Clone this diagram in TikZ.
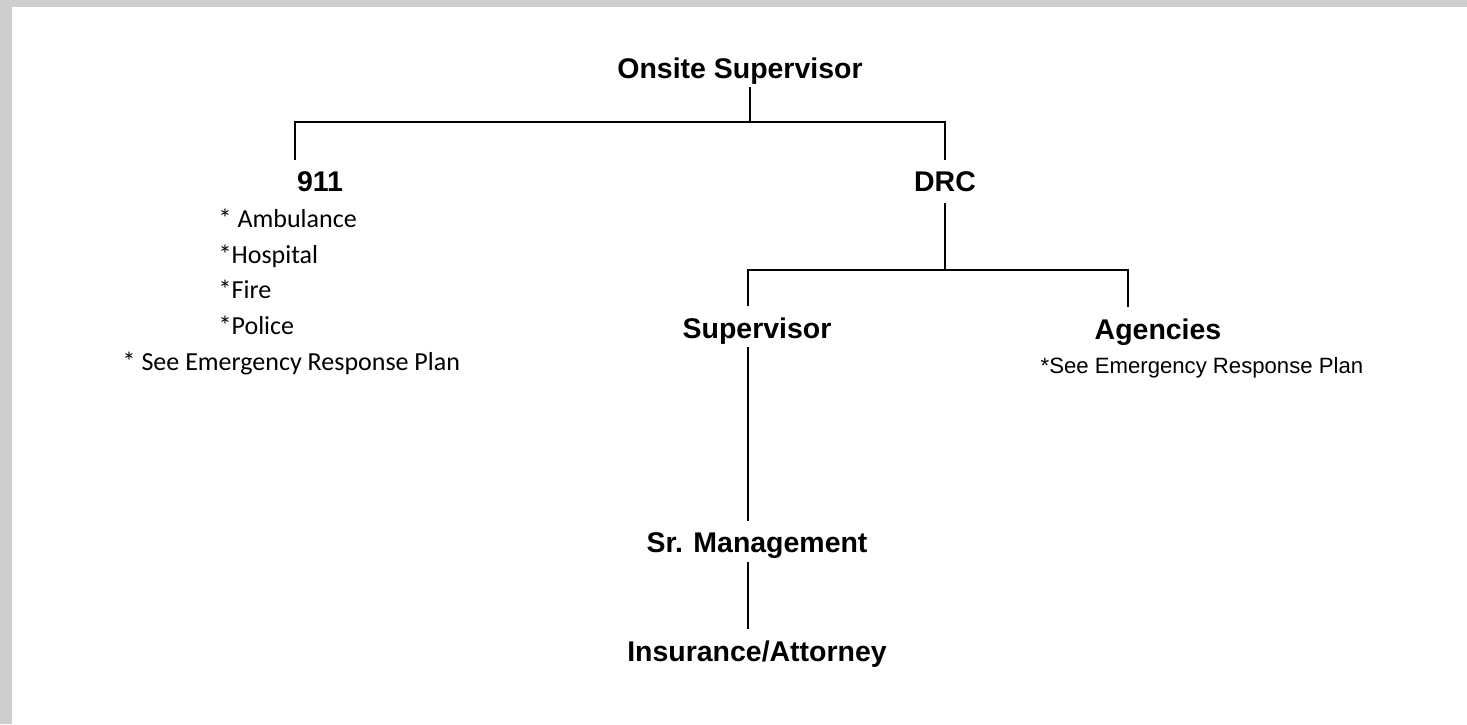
\documentclass[tikz,border=0pt]{standalone}
\usepackage{fontspec}
\setmainfont{Liberation Sans}
\newfontfamily\calib{Carlito}
\definecolor{frame}{RGB}{206,206,206}
\begin{document}
\begin{tikzpicture}[
            head/.style={font=\bfseries\fontsize{8.1pt}{9.7pt}\selectfont, inner xsep=0pt, inner ysep=3pt, anchor=base},
            item/.style={font=\calib\fontsize{7.4pt}{9pt}\selectfont, inner sep=0pt, anchor=base west},
            note/.style={font=\fontsize{6.3pt}{8pt}\selectfont, inner sep=0pt, anchor=base west},
            link/.style={line width=0.6pt},
            fromtop/.style={link, shorten <=-2.2pt}]
            \fill [frame](0,0) rectangle (14.67,-7.24);
            \fill [white](0.12,-0.07) rectangle (14.67,-7.24);
            % headings
            \node [head] (os) at (7.40,-0.78) {Onsite Supervisor};
            \node [head] (n911) at (3.20,-1.91) {911};
            \node [head] (drc) at (9.45,-1.91) {DRC};
            \node [head] (sup) at (7.57,-3.38) {Supervisor};
            \node [head] (ag) at (11.58,-3.39) {Agencies};
            \node [head] (srm) at (7.57,-5.52) {Sr. Management};
            \node [head] (ins) at (7.57,-6.61) {Insurance/Attorney};
            % lists
            \node [item] (amb) at (2.18,-2.27) {* Ambulance};
            \node [item] (hos) at (2.18,-2.63) {*Hospital};
            \node [item] (fir) at (2.18,-2.98) {*Fire};
            \node [item] (pol) at (2.18,-3.34) {*Police};
            \node [item] (erp) at (1.22,-3.70) {* See Emergency Response Plan};
            \node [note] (agn) at (10.40,-3.73) {*See Emergency Response Plan};
            % junctions
            \coordinate (bar1) at (7.50,-1.22);
            \coordinate (x911) at (2.95,-1.22);
            \coordinate (bar2) at (9.45,-2.70);
            \coordinate (xsup) at (7.48,-2.70);
            \coordinate (xag) at (11.28,-2.70);
            \draw [fromtop](os.south -| bar1)--(bar1);
            \draw [link](n911.north -| x911) |- (bar1) -| (drc.north);
            \draw [link](drc.south)--(bar2);
            \draw [link](sup.north -| xsup) |- (bar2) -| (ag.north -| xag);
            \draw [fromtop](sup.south -| xsup)--(srm.north -| xsup);
            \draw [fromtop](srm.south -| xsup)--(ins.north -| xsup);
        \end{tikzpicture}
\end{document}
